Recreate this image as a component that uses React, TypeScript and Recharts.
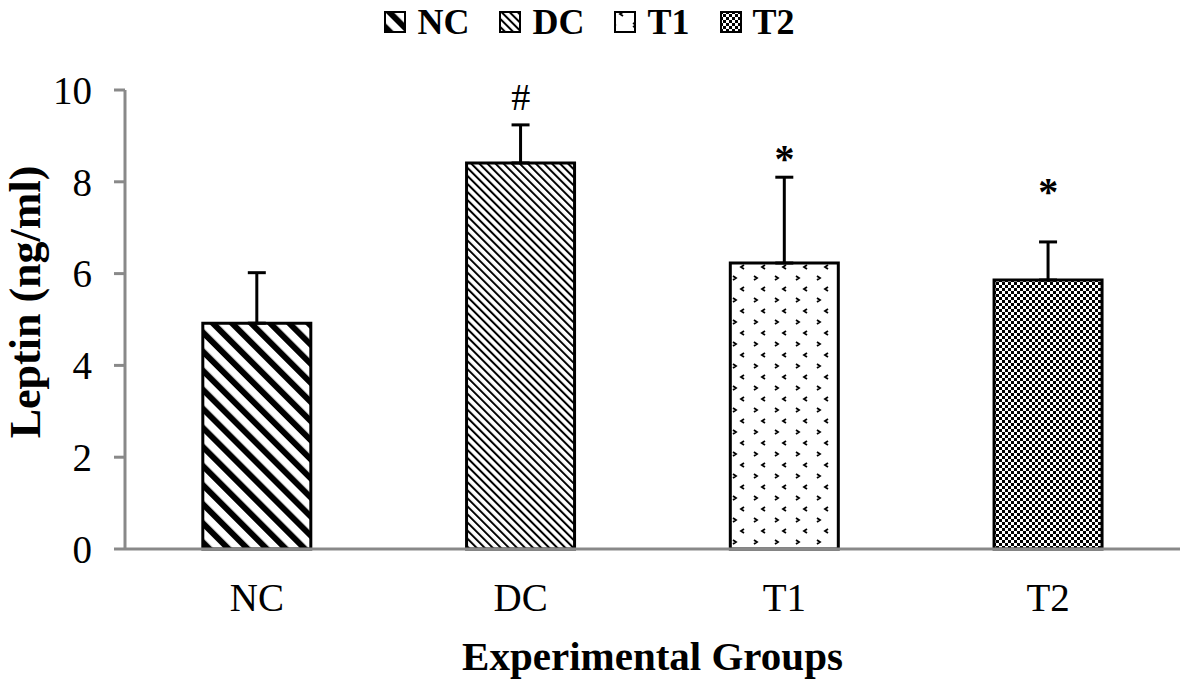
import React from "react";
import { Bar, Cell, ComposedChart, ErrorBar, Scatter, XAxis, YAxis } from "recharts";

const groups = ["NC", "DC", "T1", "T2"];
const means = [4.92, 8.41, 6.23, 5.86];
const errors = [1.1, 0.83, 1.87, 0.83];
// significance marks drawn above the error bars (value = centre of the glyph)
const marks = ["", "#", "*", "*"];
const markLevels = [null, 9.85, 8.64, 7.94];
const yTicks = [0, 2, 4, 6, 8, 10];

const SERIF = '"Liberation Serif", "Times New Roman", serif';
const AXIS_GREY = "#898989";

const rows = groups.map((g, i) => ({
  group: g,
  mean: means[i],
  err: [0, errors[i]],
  mark: marks[i],
  level: markLevels[i],
}));

const fillFor = (prefix: string, g: string) => `url(#${prefix}-${g})`;

function Patterns({ prefix }: { prefix: string }) {
  return (
    <defs>
      <pattern id={`${prefix}-NC`} patternUnits="userSpaceOnUse" width={13.5} height={13.5} patternTransform="rotate(-45)">
        <rect width={13.5} height={13.5} fill="#fff" />
        <rect x={0} y={0} width={6} height={13.5} fill="#000" />
      </pattern>
      <pattern id={`${prefix}-DC`} patternUnits="userSpaceOnUse" width={5.7} height={5.7} patternTransform="rotate(-45)">
        <rect width={5.7} height={5.7} fill="#fff" />
        <rect x={0} y={0} width={2} height={5.7} fill="#000" />
      </pattern>
      <pattern id={`${prefix}-T1`} patternUnits="userSpaceOnUse" width={21} height={22}>
        <rect width={21} height={22} fill="#fff" />
        <path d="M9 1 L6 3 L9 5" stroke="#000" strokeWidth={1.8} fill="none" />
        <path d="M-2 12 L1 14 L-2 16 M19 12 L22 14 L19 16" stroke="#000" strokeWidth={1.8} fill="none" />
      </pattern>
      <pattern id={`${prefix}-T2`} patternUnits="userSpaceOnUse" width={6} height={6}>
        <rect width={6} height={6} fill="#fff" />
        <rect x={0} y={0} width={3} height={3} fill="#000" />
        <rect x={3} y={3} width={3} height={3} fill="#000" />
      </pattern>
    </defs>
  );
}

function LegendRow() {
  return (
    <div
      style={{
        position: "absolute",
        top: 2,
        left: 0,
        width: 1181,
        height: 40,
        display: "flex",
        justifyContent: "center",
        alignItems: "center",
        paddingRight: 2,
        boxSizing: "border-box",
        fontFamily: SERIF,
        fontWeight: "bold",
        fontSize: 36,
        lineHeight: "40px",
      }}
    >
      {groups.map((g) => (
        <div key={g} style={{ display: "flex", alignItems: "center", margin: "0 15px" }}>
          <svg width={22} height={22} style={{ marginRight: 11 }}>
            <Patterns prefix={`lg-${g}`} />
            <rect x={1} y={1} width={20} height={20} fill={fillFor(`lg-${g}`, g)} stroke="#000" strokeWidth={2} />
          </svg>
          <span>{g}</span>
        </div>
      ))}
    </div>
  );
}

function MarkShape(props: any) {
  const { cx, cy, payload } = props;
  if (!payload || !payload.mark || cy == null || isNaN(cy)) return null;
  const star = payload.mark === "*";
  return (
    <text
      x={cx}
      y={cy + (star ? 20 : 13)}
      textAnchor="middle"
      fontFamily={SERIF}
      fontWeight={star ? "bold" : "normal"}
      fontSize={star ? 40 : 38}
      fill="#000"
    >
      {payload.mark}
    </text>
  );
}

export default function App() {
  return (
    <div style={{ position: "absolute", left: 0, top: 0, width: 1181, height: 681, background: "#fff" }}>
      <LegendRow />
      <ComposedChart
        width={1181}
        height={681}
        data={rows}
        margin={{ top: 90, right: 1, bottom: 0, left: 0 }}
        barCategoryGap="29.5%"
      >
        <Patterns prefix="bar" />
        <XAxis
          dataKey="group"
          height={132}
          axisLine={{ stroke: AXIS_GREY, strokeWidth: 3 }}
          tickLine={false}
          tickSize={0}
          tickMargin={34}
          tick={{ fill: "#000", fontFamily: SERIF, fontSize: 39 }}
          label={(p: any) => {
            const vb = p.viewBox || {};
            return (
              <text
                x={vb.x + vb.width / 2}
                y={670}
                textAnchor="middle"
                fontFamily={SERIF}
                fontWeight="bold"
                fontSize={41}
                fill="#000"
              >
                Experimental Groups
              </text>
            );
          }}
        />
        <YAxis
          width={125}
          domain={[0, 10]}
          ticks={yTicks}
          interval={0}
          axisLine={{ stroke: AXIS_GREY, strokeWidth: 3 }}
          tickLine={{ stroke: AXIS_GREY, strokeWidth: 3 }}
          tickSize={11}
          tickMargin={22}
          tick={{ fill: "#000", fontFamily: SERIF, fontSize: 39 }}
          label={() => (
            <text
              x={0}
              y={0}
              transform="translate(40, 302) rotate(-90)"
              textAnchor="middle"
              fontFamily={SERIF}
              fontWeight="bold"
              fontSize={44}
              fill="#000"
            >
              Leptin (ng/ml)
            </text>
          )}
        />
        <Bar dataKey="mean" stroke="#000" strokeWidth={3} isAnimationActive={false}>
          {rows.map((r) => (
            <Cell key={r.group} fill={fillFor("bar", r.group)} />
          ))}
          <ErrorBar dataKey="err" direction="y" width={9} stroke="#000" strokeWidth={3} />
        </Bar>
        <Scatter dataKey="level" shape={MarkShape} isAnimationActive={false} />
      </ComposedChart>
    </div>
  );
}
